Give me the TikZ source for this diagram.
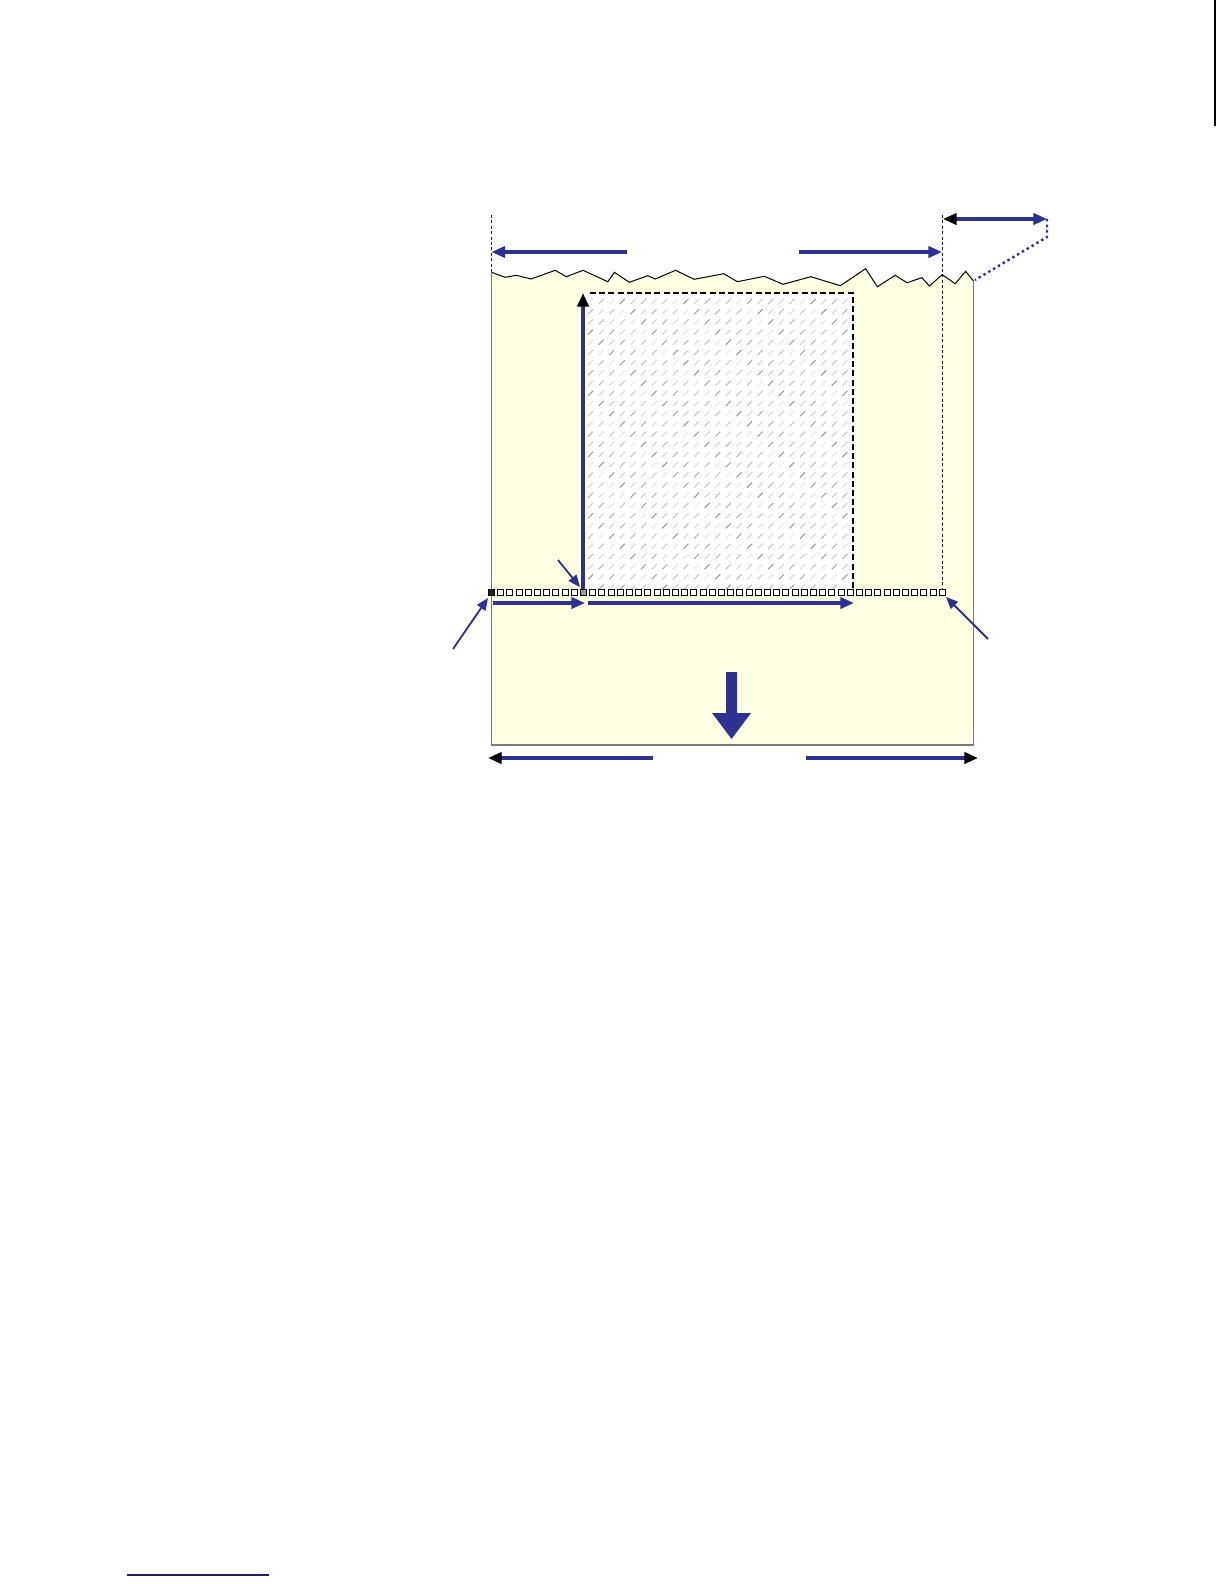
\documentclass[tikz,border=0pt]{standalone}
\usetikzlibrary{arrows.meta}
\definecolor{dblue}{HTML}{2E3192}
\definecolor{paperfill}{HTML}{FFFFE4}
\definecolor{edgegrey}{HTML}{7A7A7A}
\begin{document}
\begin{tikzpicture}[x=0.5pt,y=-0.5pt,
  dimline/.style={draw=dblue,line width=1.6pt},
  bluehead/.style={-{Triangle[length=6.8pt,width=5.6pt,color=dblue]}},
  blackhead/.style={-{Triangle[length=6.8pt,width=5.6pt,color=black]}},
  twohead/.style={{Triangle[length=6.8pt,width=5.6pt,color=black]}-{Triangle[length=6.8pt,width=5.6pt,color=dblue]}},
  pointer/.style={draw=dblue,line width=0.9pt,-{Triangle[length=6pt,width=5pt,color=dblue]}},
  guide/.style={draw=dblue!50!black,line width=0.5pt,dash pattern=on 1.5pt off 1.2pt},
  sq/.style={draw=black,line width=0.45pt,fill=white},
]
\useasboundingbox (0,0) rectangle (1224,1584);

% paper
\path[fill=paperfill] (491.5,272.3) -- (505.2,277.3) -- (516.3,275.3) -- (531.1,279) -- (555.2,270.3) -- (566.3,276.7) -- (583,270.3) -- (607.8,281.7) -- (614.4,272.3) -- (629.3,282.3) -- (647.8,275.7) -- (655.2,279) -- (675.6,270.3) -- (694.1,279.3) -- (723.7,273.7) -- (737.4,281.7) -- (764.4,276.3) -- (783,284.3) -- (810.7,276.7) -- (840.4,285.7) -- (865.6,268.7) -- (877.4,286.7) -- (895.2,275.3) -- (907,282.7) -- (921.9,277.7) -- (929.3,286) -- (942.2,274.7) -- (955.2,283.7) -- (965.6,271.3) -- (973.5,281) -- (973.5,745) -- (491.5,745) -- cycle;
\draw[black,line width=0.5pt] (491.5,272.3) -- (505.2,277.3) -- (516.3,275.3) -- (531.1,279) -- (555.2,270.3) -- (566.3,276.7) -- (583,270.3) -- (607.8,281.7) -- (614.4,272.3) -- (629.3,282.3) -- (647.8,275.7) -- (655.2,279) -- (675.6,270.3) -- (694.1,279.3) -- (723.7,273.7) -- (737.4,281.7) -- (764.4,276.3) -- (783,284.3) -- (810.7,276.7) -- (840.4,285.7) -- (865.6,268.7) -- (877.4,286.7) -- (895.2,275.3) -- (907,282.7) -- (921.9,277.7) -- (929.3,286) -- (942.2,274.7) -- (955.2,283.7) -- (965.6,271.3) -- (973.5,281);
\draw[edgegrey,line width=0.75pt] (491.5,272.3) -- (491.5,745) -- (973.5,745) -- (973.5,281);

% print area with hatch
\fill[white] (583,293) rectangle (853,592);
\begin{scope}
  \clip (583,293) rectangle (853,592);
  \foreach \i in {0,...,25} {
    \foreach \j in {0,...,29} {
      \pgfmathtruncatemacro\m{mod(\i*7+\j*11,6)}
      \ifcase\m \def\g{14}\or \def\g{22}\or \def\g{10}\or \def\g{40}\or \def\g{18}\else \def\g{28}\fi
      \draw[line width=0.5pt,color=black!\g] (588+\i*10.6,304+\j*10.2) -- ++(5,-5);
    }
  }
\end{scope}
\draw[black,line width=0.6pt,dash pattern=on 3pt off 1.6pt] (590,293) -- (853,293) -- (853,590);

% guide lines
\coordinate (gl1) at (491.5,215);
\coordinate (gl2) at (491.5,272);
\coordinate (gr1) at (942,215);
\coordinate (gr2) at (942,588);
\draw[guide] (gl1) -- (gl2);
\draw[guide] (gr1) -- (gr2);

% top dimension arrows
\coordinate (ta1) at (627,252);
\coordinate (ta2) at (491.5,252);
\coordinate (tb1) at (799,252);
\coordinate (tb2) at (942,252);
\draw[dimline,bluehead] (ta1) -- (ta2);
\draw[dimline,bluehead] (tb1) -- (tb2);

% top-right margin arrow and dotted connector
\coordinate (mr1) at (943,219);
\coordinate (mr2) at (1047,219);
\coordinate (md1) at (1047,237);
\coordinate (md2) at (975,280);
\draw[dimline,twohead] (mr1) -- (mr2);
\draw[dblue,line width=1.2pt,dash pattern=on 1.2pt off 1.6pt] (mr2) -- (md1) -- (md2);

% row of squares
\foreach \k in {0,...,49} {
  \pgfmathsetmacro\xx{491.5+\k*9.2}
  \ifnum\k=0
    \draw[sq,fill=black!85] (\xx-3,589) rectangle (\xx+3,595);
  \else\ifnum\k=10
    \draw[sq,fill=black!40] (\xx-3,589) rectangle (\xx+3,595);
  \else
    \draw[sq] (\xx-3,589) rectangle (\xx+3,595);
  \fi\fi
}

% vertical arrow
\coordinate (va1) at (583,589);
\coordinate (va2) at (583,293);
\draw[dimline,blackhead] (va1) -- (va2);

% arrows under the row
\coordinate (ua1) at (493,603);
\coordinate (ua2) at (585,603);
\coordinate (ub1) at (588,603);
\coordinate (ub2) at (854,603);
\draw[dimline,bluehead] (ua1) -- (ua2);
\draw[dimline,bluehead] (ub1) -- (ub2);

% pointers
\coordinate (p1a) at (558,560);
\coordinate (p1b) at (580,587);
\coordinate (p2a) at (453,649);
\coordinate (p2b) at (488,598);
\coordinate (p3a) at (988,639);
\coordinate (p3b) at (946,597);
\draw[pointer] (p1a) -- (p1b);
\draw[pointer] (p2a) -- (p2b);
\draw[pointer] (p3a) -- (p3b);

% feed direction arrow
\fill[dblue] (726,672) -- (737,672) -- (737,713) -- (751,713) -- (731.5,739) -- (712,713) -- (726,713) -- cycle;

% bottom width arrows
\coordinate (ba1) at (653,758);
\coordinate (ba2) at (488,758);
\coordinate (bb1) at (806,758);
\coordinate (bb2) at (978,758);
\draw[dimline,blackhead] (ba1) -- (ba2);
\draw[dimline,blackhead] (bb1) -- (bb2);

% right edge tab line
\draw[black,line width=1.4pt] (1215,0) -- (1215,126);

% footnote rule
\draw[dblue!70!black,line width=0.9pt] (127,1575) -- (269,1575);
\end{tikzpicture}
\end{document}
